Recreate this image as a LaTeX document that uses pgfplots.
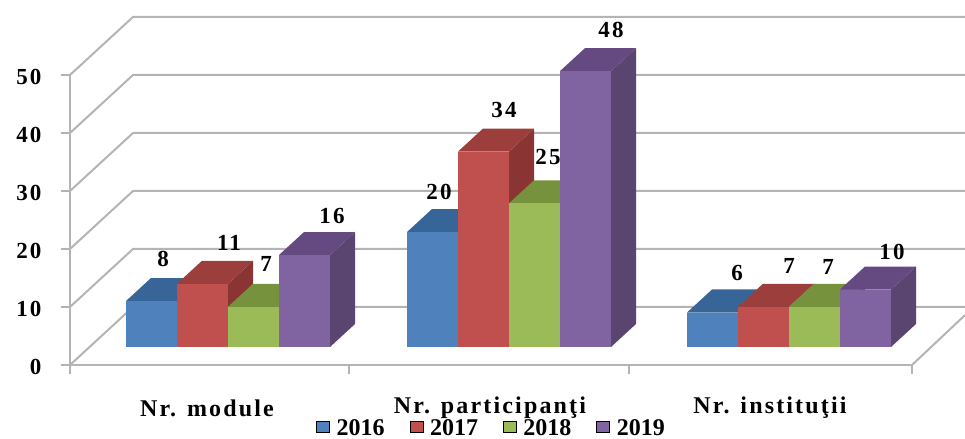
\documentclass[border=0pt]{standalone}
\usepackage{pgfplots}
\pgfplotsset{compat=1.18}
\usepackage{fontspec}
\setmainfont{Liberation Serif}
\newfontfamily\lab[LetterSpace=9]{Liberation Serif}
\newfontfamily\catf[LetterSpace=9]{Liberation Serif}
\newcommand\labf{\lab\bfseries\fontsize{23}{26}\selectfont}
\newcommand\catfont{\catf\bfseries\fontsize{24}{28}\selectfont}
\newcommand\legf{\bfseries\fontsize{24}{26}\selectfont}
\definecolor{bluF}{HTML}{4F81BD}\definecolor{bluT}{HTML}{376597}\definecolor{bluS}{HTML}{2F5580}
\definecolor{redF}{HTML}{C0504D}\definecolor{redT}{HTML}{9C3F3C}\definecolor{redS}{HTML}{8A3533}
\definecolor{greF}{HTML}{9BBB59}\definecolor{greT}{HTML}{76923C}\definecolor{greS}{HTML}{667F33}
\definecolor{purF}{HTML}{8064A2}\definecolor{purT}{HTML}{644A80}\definecolor{purS}{HTML}{5A4470}
\definecolor{gridc}{HTML}{B4B4B4}
% left edge (px), value, colour prefix
\newcommand{\threeD}[3]{%
  \pgfmathsetmacro\xa{#1}%
  \pgfmathsetmacro\xb{#1+51}%
  \pgfmathsetmacro\xc{#1+76}%
  \pgfmathsetmacro\xd{#1+25}%
  \pgfmathsetmacro\yt{3.103+0.991*#2}%
  \pgfmathsetmacro\yu{3.103+0.991*#2+3.966}%
  \pgfmathsetmacro\yv{3.103+3.966}%
  \edef\temp{%
    \noexpand\addplot[forget plot,draw=none,fill=#3S] coordinates {(\xb,3.103) (\xc,\yv) (\xc,\yu) (\xb,\yt)};
    \noexpand\addplot[forget plot,draw=none,fill=#3T] coordinates {(\xa,\yt) (\xb,\yt) (\xc,\yu) (\xd,\yu)};
    \noexpand\addplot[forget plot,draw=none,fill=#3F] coordinates {(\xa,3.103) (\xb,3.103) (\xb,\yt) (\xa,\yt)};
  }\temp}
% centre x (px), centre y (px), text
\newcommand{\lbl}[3]{%
  \pgfmathsetmacro\ly{(365-#2)/5.8}%
  \edef\temp{\noexpand\node[font=\noexpand\labf,inner sep=0pt] at (axis cs:#1,\ly) {#3};}\temp}
\begin{document}
\begin{tikzpicture}
\begin{axis}[
  scale only axis, width=842pt, height=290pt,
  xmin=70, xmax=912, ymin=0, ymax=50,
  clip=false,
  axis lines=left,
  axis line style={-,draw=gridc,line width=2pt},
  tick align=outside,
  major tick length=9pt,
  tick style={draw=gridc,line width=1.5pt},
  ytick={0,10,20,30,40,50},
  yticklabel style={font=\labf,/pgf/number format/assume math mode=true,anchor=east,xshift=-16pt,yshift=-2pt},
  xtick={70,349,629,912},
  xticklabels={,,,},
  extra x ticks={207,490,770},
  extra x tick labels={Nr. module,Nr. participanţi,Nr. instituţii},
  extra x tick style={xtick style={draw=none},xticklabel style={font=\catfont,anchor=center,yshift=-34pt}},
  legend columns=4,
  legend cell align=left,
  legend style={draw=none,fill=none,inner sep=0pt,at={(axis cs:316,-10.9)},anchor=west,font=\legf,
    nodes={inner sep=0pt},
    /tikz/every even column/.append style={column sep=25pt},
    /tikz/every odd column/.append style={column sep=7pt}},
  legend image code/.code={\fill[#1] (0pt,-3.5pt) rectangle (13pt,7.5pt);},
]
\addlegendimage{fill=bluF}\addlegendentry{2016}
\addlegendimage{fill=redF}\addlegendentry{2017}
\addlegendimage{fill=greF}\addlegendentry{2018}
\addlegendimage{fill=purF}\addlegendentry{2019}
% walls: front (x=70) to back (x=133) and along the back
\addplot[forget plot,draw=gridc,line width=2pt] coordinates {(70,0) (133,10) (965,10)};
\addplot[forget plot,draw=gridc,line width=2pt] coordinates {(70,10) (133,20) (965,20)};
\addplot[forget plot,draw=gridc,line width=2pt] coordinates {(70,20) (133,30) (965,30)};
\addplot[forget plot,draw=gridc,line width=2pt] coordinates {(70,30) (133,40) (965,40)};
\addplot[forget plot,draw=gridc,line width=2pt] coordinates {(70,40) (133,50) (965,50)};
\addplot[forget plot,draw=gridc,line width=2pt] coordinates {(70,50) (133,60) (965,60)};
\addplot[forget plot,draw=gridc,line width=2pt] coordinates {(912,0) (965,8.6)};
% bars
\threeD{126}{8}{blu}\threeD{177}{11}{red}\threeD{228}{7}{gre}\threeD{279}{16}{pur}
\threeD{407}{20}{blu}\threeD{458}{34}{red}\threeD{509}{25}{gre}\threeD{560}{48}{pur}
\threeD{687}{6}{blu}\threeD{738}{7}{red}\threeD{789}{7}{gre}\threeD{840}{10}{pur}
% value labels
\lbl{163}{259}{8}\lbl{229}{243}{11}\lbl{266}{264}{7}\lbl{332}{216}{16}
\lbl{439}{192}{20}\lbl{504}{110}{34}\lbl{548}{157}{25}\lbl{611}{30}{48}
\lbl{737}{273}{6}\lbl{789}{266}{7}\lbl{828}{267}{7}\lbl{892}{252}{10}
\coordinate (bbA) at (axis cs:0,-12.76);
\coordinate (bbB) at (axis cs:965,62.93);
\end{axis}
\pgfresetboundingbox
\path[use as bounding box] (bbA) rectangle (bbB);
\end{tikzpicture}
\end{document}
